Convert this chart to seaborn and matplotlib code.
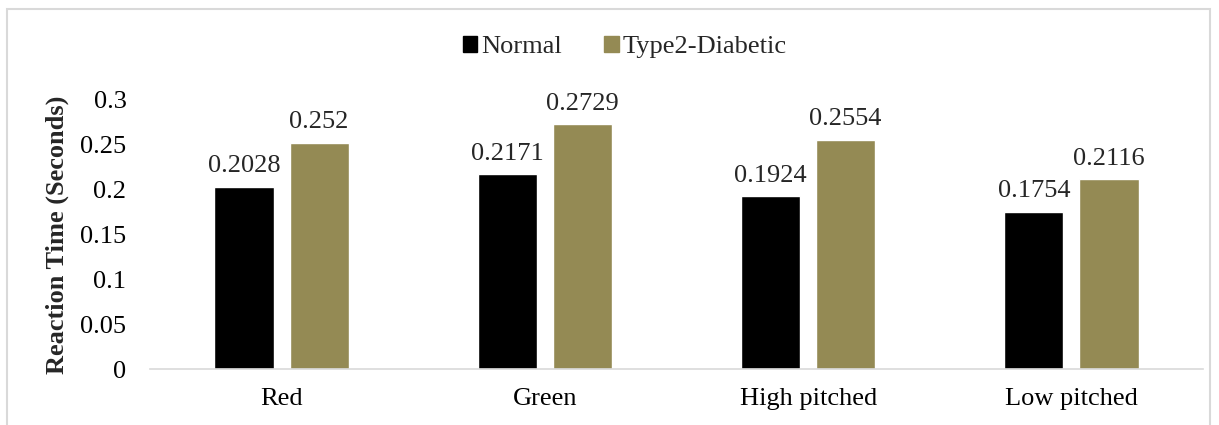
import matplotlib
matplotlib.use("Agg")
import matplotlib.pyplot as plt
import seaborn as sns
import pandas as pd
from matplotlib.patches import Rectangle
from matplotlib.ticker import FuncFormatter

categories = ["Red", "Green", "High pitched", "Low pitched"]
normal = [0.2028, 0.2171, 0.1924, 0.1754]
diabetic = [0.252, 0.2729, 0.2554, 0.2116]
normal_labels = ["0.2028", "0.2171", "0.1924", "0.1754"]
diabetic_labels = ["0.252", "0.2729", "0.2554", "0.2116"]
series = ["Normal", "Type2-Diabetic"]
colors = ["#000000", "#948A54"]

df = pd.DataFrame({
    "Category": categories * 2,
    "Value": normal + diabetic,
    "Group": [series[0]] * 4 + [series[1]] * 4,
})

sns.set_theme(style="white")
plt.rcParams["font.family"] = ["Liberation Serif", "DejaVu Serif"]

FS = 19

fig = plt.figure(figsize=(12.19, 4.25), dpi=100)
ax = fig.add_axes([150 / 1219, (425 - 369) / 425, (1203 - 150) / 1219, (369 - 100) / 425])

sns.barplot(data=df, x="Category", y="Value", hue="Group", palette=colors,
            width=0.57, gap=0.21, ax=ax, legend=False, saturation=1)

ax.set_ylim(0, 0.3)
ax.set_xlim(-0.5, 3.5)
ax.set_yticks([0, 0.05, 0.1, 0.15, 0.2, 0.25, 0.3])
ax.yaxis.set_major_formatter(FuncFormatter(lambda v, p: f"{v:g}"))
ax.tick_params(axis="both", length=0, labelsize=FS, colors="#000000")
ax.tick_params(axis="x", pad=14)
ax.tick_params(axis="y", pad=17)
ax.set_xlabel("")
ax.set_ylabel("Reaction Time (Seconds)", fontsize=FS, fontweight="bold", labelpad=8)
for s in ["top", "right", "left"]:
    ax.spines[s].set_visible(False)
ax.spines["bottom"].set_color("#d9d9d9")
ax.spines["bottom"].set_linewidth(1.2)

labels_all = [normal_labels, diabetic_labels]
for cont, labs in zip(ax.containers, labels_all):
    ax.bar_label(cont, labels=labs, padding=7, fontsize=FS)

handles = [Rectangle((0, 0), 1, 1, color=c) for c in colors]
fig.legend(handles, series, loc="center", bbox_to_anchor=(625 / 1219, 1 - 47 / 425),
           ncol=2, frameon=False, fontsize=FS, handlelength=0.55, handleheight=0.55,
           handletextpad=0.15, columnspacing=1.6)

fig.patches.append(Rectangle((7 / 1219, -0.05), (1210 - 7) / 1219, 1.05 - 9 / 425,
                             transform=fig.transFigure, fill=False,
                             edgecolor="#d9d9d9", linewidth=1.5))

fig.savefig("out.png", dpi=100)
